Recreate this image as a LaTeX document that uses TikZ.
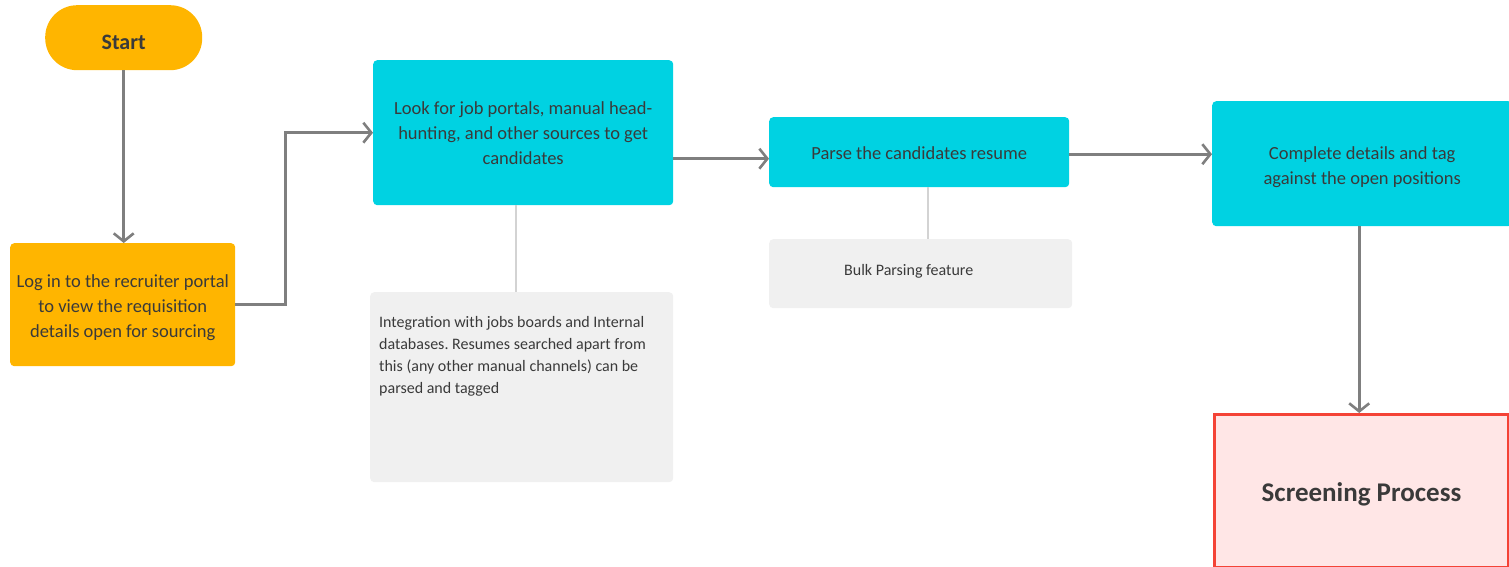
\documentclass[tikz,border=0pt]{standalone}
\usepackage{fontspec}
\setmainfont{Carlito}
\usetikzlibrary{arrows.meta}
\frenchspacing
\definecolor{flowamber}{HTML}{FFB500}
\definecolor{flowcyan}{HTML}{00D2E2}
\definecolor{notegrey}{HTML}{F0F0F0}
\definecolor{linkgrey}{HTML}{7F7F7F}
\definecolor{stemgrey}{HTML}{D3D3D3}
\definecolor{inkgrey}{HTML}{3A3A3A}
\definecolor{endfill}{HTML}{FFE6E6}
\definecolor{endline}{HTML}{F44336}
\newcommand{\lowered}[2]{\raisebox{-#1}[\height][\depth]{#2}}
\tikzset{
  box/.style={anchor=north west, inner sep=0pt, rounded corners=4pt,
    align=center, text=inkgrey, font=\fontsize{18.5}{25}\selectfont},
  stepbox/.style={box, fill=flowcyan},
  notebox/.style={box, fill=notegrey, font=\fontsize{16}{22}\selectfont},
  flow/.style={draw=linkgrey, line width=3pt,
    -{Straight Barb[length=8pt,width=20pt,line width=2.6pt]}},
  stem/.style={draw=stemgrey, line width=2.5pt},
}
\begin{document}
\begin{tikzpicture}[x=1pt,y=-1pt]
\useasboundingbox (0,0) rectangle (1509,567);

% start terminal
\node[box, fill=flowamber, rounded corners=32pt, minimum width=157pt,
  minimum height=65pt, font=\fontsize{22}{24}\selectfont\bfseries]
  (start) at (45,5) {\lowered{5pt}{Start}};

% process steps
\node[box, fill=flowamber, minimum width=225pt, minimum height=123pt]
  (login) at (10,243)
  {\lowered{3pt}{\begin{tabular}{@{}c@{}}Log in to the recruiter portal\\to view the requisition\\details open for sourcing\end{tabular}}};
\node[stepbox, minimum width=300pt, minimum height=145pt] (look) at (373,60)
  {Look for job portals, manual head-\\hunting, and other sources to get\\candidates};
\node[stepbox, minimum width=300pt, minimum height=70pt] (parse) at (769,117)
  {\lowered{1pt}{Parse the candidates resume}};
\node[stepbox, minimum width=300pt, minimum height=125pt] (complete) at (1212,101)
  {\lowered{3pt}{\begin{tabular}{@{}c@{}}Complete details and tag\\against the open positions\end{tabular}}};
\node[box, rounded corners=0pt, fill=endfill, draw=endline, line width=3pt,
  minimum width=294pt, minimum height=153pt,
  font=\fontsize{27}{30}\selectfont\bfseries] (screen) at (1213,413)
  {\lowered{3pt}{Screening Process}};

% notes
\node[notebox, minimum width=303pt, minimum height=190pt] (integ) at (370,292) {};
\node[anchor=north west, align=left, text=inkgrey, inner sep=0pt,
  font=\fontsize{16}{22}\selectfont] (integtext) at (379,316)
  {Integration with jobs boards and Internal\\databases. Resumes searched apart from\\this (any other manual channels) can be\\parsed and tagged};
\node[notebox, minimum width=303pt, minimum height=69pt] (bulk) at (769,239)
  {\raisebox{2pt}[\height][\depth]{Bulk Parsing feature}\hspace*{24pt}};

% connectors
\draw[flow] (start.south) -- (start.south |- login.north);
\draw[flow] (login.east) -- ++(50,0) |- (look.west);
\draw[flow] ([yshift=-26pt]look.east) -- ([yshift=-26pt]look.east -| parse.west);
\draw[flow] ([yshift=-2pt]parse.east) -- ([yshift=-2pt]parse.east -| complete.west);
\draw[flow] ([xshift=-3pt]complete.south) -- ([xshift=-3pt]complete.south |- screen.north);
\draw[stem] ([xshift=-7pt]look.south) -- ([xshift=-7pt]look.south |- integ.north);
\draw[stem] ([xshift=9pt]parse.south) -- ([xshift=9pt]parse.south |- bulk.north);
\end{tikzpicture}
\end{document}
